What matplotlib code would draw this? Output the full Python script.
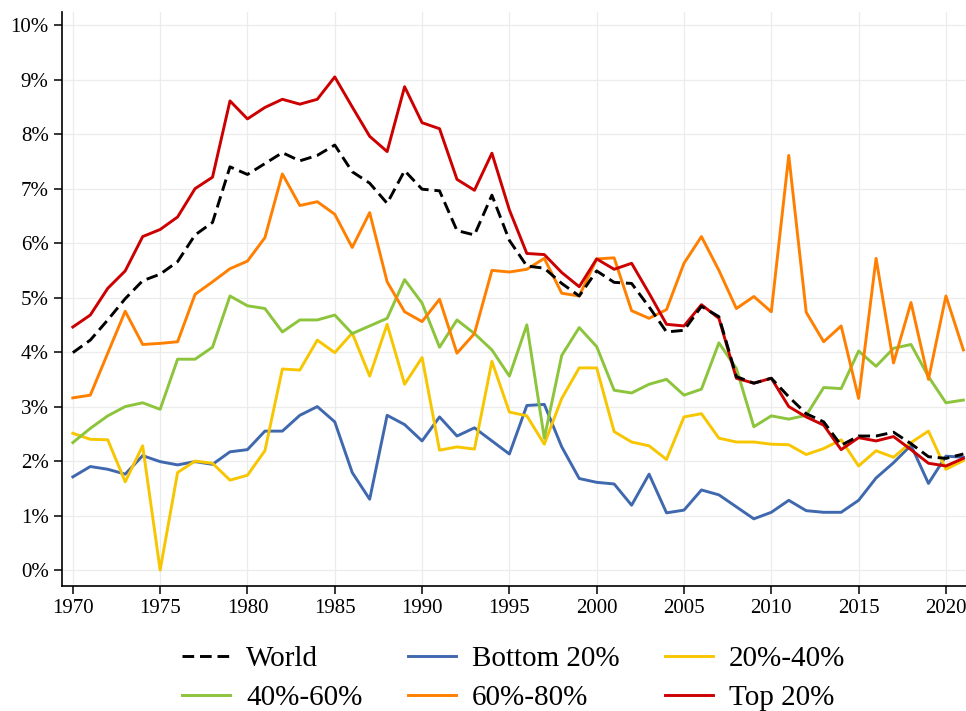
import matplotlib
matplotlib.use("Agg")
import matplotlib.pyplot as plt
from matplotlib.ticker import FuncFormatter

years = list(range(1970, 2022))

world = [3.99, 4.22, 4.59, 4.98, 5.31, 5.43, 5.66, 6.15, 6.38, 7.40,
         7.26, 7.46, 7.66, 7.51, 7.61, 7.80, 7.31, 7.10, 6.73, 7.33,
         6.99, 6.96, 6.23, 6.15, 6.88, 6.05, 5.58, 5.54, 5.26, 5.03,
         5.49, 5.28, 5.26, 4.83, 4.37, 4.40, 4.84, 4.65, 3.55, 3.43,
         3.52, 3.18, 2.87, 2.72, 2.29, 2.46, 2.46, 2.53, 2.32, 2.08,
         2.05, 2.13]
bottom20 = [1.71, 1.90, 1.85, 1.76, 2.10, 1.99, 1.93, 1.99, 1.94, 2.17,
            2.21, 2.55, 2.55, 2.84, 3.00, 2.72, 1.79, 1.30, 2.84, 2.67,
            2.37, 2.81, 2.46, 2.61, 2.37, 2.13, 3.02, 3.04, 2.26, 1.68,
            1.61, 1.58, 1.19, 1.76, 1.05, 1.10, 1.47, 1.38, 1.16, 0.94,
            1.06, 1.28, 1.09, 1.06, 1.06, 1.28, 1.69, 1.97, 2.29, 1.59,
            2.09, 2.07]
q20_40 = [2.51, 2.40, 2.39, 1.62, 2.28, 0.00, 1.79, 2.00, 1.96, 1.65,
          1.74, 2.19, 3.69, 3.67, 4.22, 3.99, 4.35, 3.56, 4.51, 3.41,
          3.90, 2.20, 2.26, 2.22, 3.83, 2.90, 2.83, 2.31, 3.15, 3.71,
          3.71, 2.54, 2.35, 2.28, 2.03, 2.81, 2.87, 2.42, 2.35, 2.35,
          2.31, 2.30, 2.12, 2.23, 2.39, 1.91, 2.19, 2.07, 2.34, 2.55,
          1.85, 2.01]
q40_60 = [2.34, 2.60, 2.83, 3.00, 3.07, 2.95, 3.87, 3.87, 4.09, 5.03,
          4.85, 4.80, 4.37, 4.59, 4.59, 4.68, 4.34, 4.48, 4.62, 5.33,
          4.90, 4.09, 4.59, 4.34, 4.04, 3.56, 4.50, 2.42, 3.94, 4.45,
          4.10, 3.30, 3.25, 3.41, 3.50, 3.21, 3.32, 4.17, 3.70, 2.63,
          2.83, 2.77, 2.84, 3.35, 3.33, 4.02, 3.74, 4.07, 4.14, 3.55,
          3.07, 3.12]
q60_80 = [3.16, 3.21, 3.98, 4.75, 4.14, 4.16, 4.19, 5.06, 5.29, 5.53,
          5.67, 6.10, 7.27, 6.69, 6.76, 6.53, 5.92, 6.56, 5.29, 4.74,
          4.56, 4.97, 3.98, 4.34, 5.50, 5.47, 5.52, 5.72, 5.08, 5.03,
          5.71, 5.73, 4.76, 4.62, 4.78, 5.63, 6.12, 5.50, 4.80, 5.02,
          4.74, 7.61, 4.73, 4.19, 4.48, 3.15, 5.72, 3.80, 4.91, 3.50,
          5.03, 4.04]
top20 = [4.46, 4.68, 5.17, 5.49, 6.12, 6.25, 6.48, 7.00, 7.21, 8.61,
         8.28, 8.49, 8.64, 8.55, 8.64, 9.05, 8.50, 7.96, 7.68, 8.87,
         8.21, 8.10, 7.17, 6.97, 7.65, 6.61, 5.81, 5.79, 5.46, 5.20,
         5.71, 5.52, 5.63, 5.08, 4.51, 4.48, 4.87, 4.62, 3.52, 3.43,
         3.52, 3.00, 2.81, 2.66, 2.21, 2.43, 2.37, 2.45, 2.21, 1.96,
         1.91, 2.05]

series_labels = ["World", "Bottom 20%", "20%-40%", "40%-60%", "60%-80%", "Top 20%"]
x_ticks = list(range(1970, 2021, 5))
y_ticks = list(range(0, 11))

plt.rcParams['font.family'] = ['Liberation Serif', 'DejaVu Serif']

fig = plt.figure(figsize=(9.66, 7.11), dpi=100)
ax = fig.add_axes([0.064, 0.176, 0.936, 0.807])

lw = 2.1
h0, = ax.plot(years, world, color='black', lw=lw, linestyle=(0, (4, 2)), label=series_labels[0], zorder=9)
h1, = ax.plot(years, bottom20, color='#3F68AE', lw=lw, label=series_labels[1])
h2, = ax.plot(years, q20_40, color='#F7C600', lw=lw, label=series_labels[2])
h3, = ax.plot(years, q40_60, color='#8CC43C', lw=lw, label=series_labels[3])
h4, = ax.plot(years, q60_80, color='#FF8000', lw=lw, label=series_labels[4])
h5, = ax.plot(years, top20, color='#CC0000', lw=lw, label=series_labels[5], zorder=8)

ax.set_xlim(1969.37, 2021.15)
ax.set_ylim(-0.29, 10.24)
ax.set_xticks(x_ticks)
ax.set_yticks(y_ticks)
ax.yaxis.set_major_formatter(FuncFormatter(lambda v, p: f"{int(v)}%"))
ax.grid(True, color='#ececec', lw=0.9, zorder=0)
ax.set_axisbelow(True)
for s in ['top', 'right']:
    ax.spines[s].set_visible(False)
for s in ['left', 'bottom']:
    ax.spines[s].set_linewidth(1.2)
ax.tick_params(axis='both', direction='out', length=6, width=1.1, labelsize=15, colors='black')

handles = [h0, h3, h1, h4, h2, h5]
leg = ax.legend(handles=handles, labels=[h.get_label() for h in handles],
                loc='upper center', bbox_to_anchor=(0.5, -0.058), ncol=3, frameon=False,
                fontsize=21, handlelength=1.65, handletextpad=0.55, columnspacing=1.55,
                labelspacing=0.45)

fig.savefig('out.png', dpi=100)
